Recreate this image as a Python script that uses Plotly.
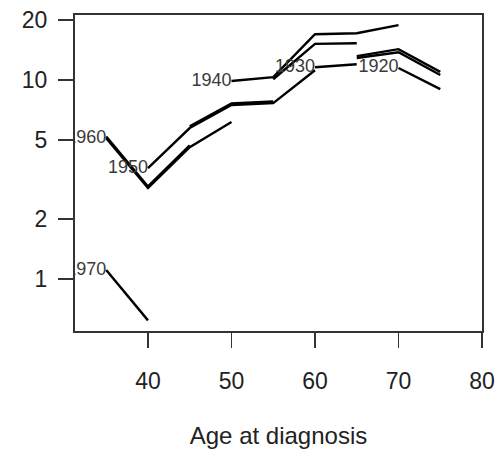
import plotly.graph_objects as go

# ---- data (age at diagnosis, rate) per birth-cohort line ----
age_1920 = [70, 75]
rate_1920 = [11.5, 9.0]
age_1925 = [65, 70, 75]
rate_1925 = [13.2, 14.3, 11.0]
age_1925b = [65, 70, 75]
rate_1925b = [12.9, 13.8, 10.6]
age_1930 = [60, 65]
rate_1930 = [11.6, 12.0]
age_1935 = [55, 60, 65]
rate_1935 = [10.1, 15.2, 15.3]
age_1940 = [50, 55, 60, 65, 70]
rate_1940 = [9.89, 10.35, 17.0, 17.2, 18.9]
age_1945 = [45, 50, 55]
rate_1945 = [5.85, 7.62, 7.8]
age_1950 = [40, 45, 50, 55, 60]
rate_1950 = [3.61, 5.74, 7.49, 7.66, 11.2]
age_1955 = [35, 40, 45]
rate_1955 = [5.2, 2.92, 4.7]
age_1960 = [35, 40, 45, 50]
rate_1960 = [5.1, 2.87, 4.6, 6.15]
age_1970 = [35, 40]
rate_1970 = [1.11, 0.62]

label_text = ["1920", "1930", "1940", "1950", "1960", "1970"]
label_age = [70, 60, 50, 40, 35, 35]
label_rate = [11.5, 11.6, 9.89, 3.61, 5.1, 1.11]

x_ticks = [40, 50, 60, 70, 80]
y_ticks = [1, 2, 5, 10, 20]

lines = [
    (age_1920, rate_1920), (age_1925, rate_1925), (age_1925b, rate_1925b),
    (age_1930, rate_1930), (age_1935, rate_1935), (age_1940, rate_1940),
    (age_1945, rate_1945), (age_1950, rate_1950), (age_1955, rate_1955),
    (age_1960, rate_1960), (age_1970, rate_1970),
]

fig = go.Figure()
for a, r in lines:
    fig.add_trace(go.Scatter(x=a, y=r, mode="lines",
                             line=dict(color="black", width=2.4),
                             showlegend=False, hoverinfo="skip",
                             cliponaxis=True))

fig.add_trace(go.Scatter(x=label_age, y=label_rate, mode="text",
                         text=label_text, textposition="middle left",
                         textfont=dict(family="Liberation Sans", size=18, color="#3a3a3a"),
                         showlegend=False, hoverinfo="skip", cliponaxis=True))

fig.update_layout(
    width=497, height=449,
    margin=dict(l=75, r=15, t=15, b=118),
    paper_bgcolor="white", plot_bgcolor="white",
    font=dict(family="Liberation Sans", size=23, color="#222"),
)
fig.update_xaxes(
    range=[31.26, 80], tickvals=x_ticks, ticktext=[str(v) for v in x_ticks],
    showgrid=False, zeroline=False, automargin=False,
    showline=True, mirror=True, linecolor="#333", linewidth=2,
    ticks="outside", ticklen=15, tickwidth=1.5, tickcolor="#333",
    ticklabelstandoff=13, ticklabeloverflow="allow",
    title=dict(text="Age at diagnosis", standoff=40, font=dict(size=24)),
)
fig.update_yaxes(
    type="log", range=[-0.261, 1.327], tickvals=y_ticks,
    ticktext=[str(v) for v in y_ticks],
    showgrid=False, zeroline=False, automargin=False,
    showline=True, mirror=True, linecolor="#333", linewidth=2,
    ticks="outside", ticklen=15, tickwidth=1.5, tickcolor="#333",
    ticklabelstandoff=6, ticklabeloverflow="allow",
)

fig.write_html("out.html",
               config={"displayModeBar": False, "staticPlot": True},
               post_script="document.body.style.margin='0';document.body.style.overflow='hidden';")
